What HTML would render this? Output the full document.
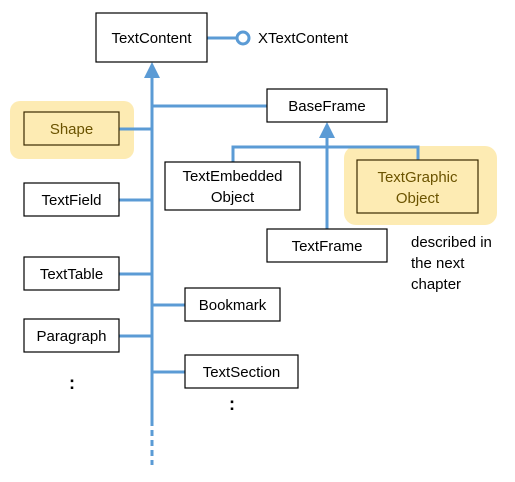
<!DOCTYPE html>
<html><head><style>body{margin:0;background:#fff}svg{display:block}text{font-family:"Liberation Sans",sans-serif;font-size:15px;fill:#000}</style></head><body>
<svg width="515" height="482" xmlns="http://www.w3.org/2000/svg">
<rect x="10" y="101" width="124" height="58" rx="10" fill="#fdebb3"/>
<rect x="344" y="146" width="153" height="79" rx="12" fill="#fdebb3"/>
<g stroke="#5b9bd5" stroke-width="3" fill="none">
<line x1="152" y1="75" x2="152" y2="420"/>
<line x1="152" y1="420" x2="152" y2="465" stroke-dasharray="6,4"/>
<line x1="207" y1="38" x2="237" y2="38"/>
<circle cx="243" cy="38" r="6" fill="#fff"/>
<line x1="152" y1="106" x2="267" y2="106"/>
<line x1="119" y1="129" x2="152" y2="129"/>
<line x1="119" y1="200" x2="152" y2="200"/>
<line x1="119" y1="274" x2="152" y2="274"/>
<line x1="152" y1="305" x2="185" y2="305"/>
<line x1="119" y1="336" x2="152" y2="336"/>
<line x1="152" y1="372" x2="185" y2="372"/>
<polyline points="233,162 233,147 418,147 418,160"/>
<line x1="327" y1="135" x2="327" y2="229"/>
</g>
<polygon points="152,62 144,78 160,78" fill="#5b9bd5"/>
<polygon points="327,122 319,138 335,138" fill="#5b9bd5"/>
<g stroke="#000" stroke-width="1.2" fill="#fff">
<rect x="96" y="13" width="111" height="49"/>
<rect x="267" y="89" width="120" height="33"/>
<rect x="24" y="112" width="95" height="33" fill="#fdebb3" stroke="#3a2a00"/>
<rect x="24" y="183" width="95" height="33"/>
<rect x="165" y="162" width="135" height="48"/>
<rect x="357" y="160" width="121" height="53" fill="#fdebb3" stroke="#3a2a00"/>
<rect x="267" y="229" width="120" height="33"/>
<rect x="24" y="257" width="95" height="33"/>
<rect x="185" y="288" width="95" height="33"/>
<rect x="24" y="319" width="95" height="33"/>
<rect x="185" y="355" width="113" height="33"/>
</g>
<g text-anchor="middle">
<text x="151.5" y="43">TextContent</text>
<text x="327" y="111">BaseFrame</text>
<text x="71.5" y="134" style="fill:#6b5300">Shape</text>
<text x="71.5" y="205">TextField</text>
<text x="232.5" y="181">TextEmbedded</text>
<text x="232.5" y="202">Object</text>
<text x="417.5" y="182" style="fill:#6b5300">TextGraphic</text>
<text x="417.5" y="203" style="fill:#6b5300">Object</text>
<text x="327" y="251">TextFrame</text>
<text x="71.5" y="279">TextTable</text>
<text x="232.5" y="310">Bookmark</text>
<text x="71.5" y="341">Paragraph</text>
<text x="241.5" y="377">TextSection</text>
<text x="72" y="389" style="font-weight:bold;font-size:18px">:</text>
<text x="232" y="410" style="font-weight:bold;font-size:18px">:</text>
</g>
<text x="258" y="43">XTextContent</text>
<text x="411" y="247">described in</text>
<text x="411" y="268">the next</text>
<text x="411" y="289">chapter</text>
</svg>
</body></html>
